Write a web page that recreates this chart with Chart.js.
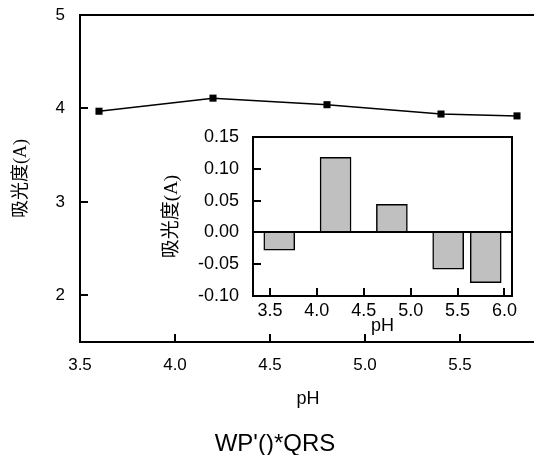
<!DOCTYPE html>
<html>
<head>
<meta charset="utf-8">
<script src="https://cdn.jsdelivr.net/npm/chart.js@4.4.0/dist/chart.umd.min.js"></script>
<style>
  html, body { margin: 0; padding: 0; background: #fff; overflow: hidden; }
  #wrap { position: relative; width: 534px; height: 455px; overflow: hidden; }
  #wrap canvas { position: absolute; left: 0; top: 0; }
  #caption {
    position: absolute; left: 0; width: 550px; top: 431px;
    text-align: center; color: #000;
    font: 24px/24px 'Liberation Sans', Arial, sans-serif;
  }
</style>
</head>
<body>
<div id="wrap">
  <canvas id="chartMain" width="560" height="455"></canvas>
  <canvas id="chartInset" width="534" height="455"></canvas>
  <div id="caption">WP'()*QRS</div>
</div>
<script>
// main plot: absorbance vs pH
const mainPH = [3.6, 4.2, 4.8, 5.4, 5.8];
const mainAbs = [3.97, 4.11, 4.04, 3.94, 3.92];
const mainXTicks = [3.5, 4.0, 4.5, 5.0, 5.5];
const mainYTicks = [2, 3, 4, 5];

// inset: absorbance change per pH
const insetPH = [3.6, 4.2, 4.8, 5.4, 5.8];
const insetDelta = [-0.028, 0.118, 0.044, -0.058, -0.079];
const insetXTicks = [3.5, 4.0, 4.5, 5.0, 5.5, 6.0];
const insetYTicks = [-0.10, -0.05, 0.00, 0.05, 0.10, 0.15];

const yTitle = '吸光度(A)';
const xTitle = 'pH';

Chart.defaults.color = '#000';
Chart.defaults.font.family = "'Liberation Sans', Arial, sans-serif";
Chart.defaults.animation = false;

const cjkFont = "'Liberation Serif', 'Noto Sans CJK SC', serif";

// inward tick marks, top line, optional right side and zero line
const frame = {
  id: 'frame',
  afterDatasetsDraw(chart, args, o) {
    const { ctx, chartArea: a } = chart;
    const { x, y } = chart.scales;
    ctx.save();
    ctx.strokeStyle = '#000';
    ctx.lineWidth = 2;
    ctx.beginPath();
    x.ticks.forEach(t => {
      const p = Math.round(x.getPixelForValue(t.value));
      ctx.moveTo(p, a.bottom);
      ctx.lineTo(p, a.bottom - o.tick);
    });
    y.ticks.forEach(t => {
      const p = Math.round(y.getPixelForValue(t.value));
      ctx.moveTo(a.left, p);
      ctx.lineTo(a.left + o.tick, p);
    });
    ctx.moveTo(a.left, a.top);
    ctx.lineTo(a.right, a.top);
    if (o.box) {
      ctx.moveTo(a.right, a.top - 1);
      ctx.lineTo(a.right, a.bottom + 1);
    }
    if (o.zero) {
      const z = Math.round(y.getPixelForValue(0));
      ctx.moveTo(a.left, z);
      ctx.lineTo(a.right, z);
    }
    ctx.stroke();
    ctx.restore();
  }
};

// fixed axis box sizes so the plot area lands where the original has it
const fixWidth = w => s => { s.width = w; s.paddingTop = 0; s.paddingBottom = 0; };
const fixHeight = h => s => { s.height = h; };

new Chart(document.getElementById('chartMain'), {
  type: 'line',
  data: {
    datasets: [{
      data: mainPH.map((v, i) => ({ x: v, y: mainAbs[i] })),
      borderColor: '#000',
      borderWidth: 1.5,
      pointStyle: 'rect',
      pointRadius: 5,
      pointBackgroundColor: '#000',
      pointBorderColor: '#000',
      pointBorderWidth: 0,
      tension: 0,
    }]
  },
  plugins: [frame],
  options: {
    responsive: false,
    layout: { padding: { left: 0, top: 15, right: 24, bottom: 0 } },
    plugins: {
      legend: { display: false },
      tooltip: { enabled: false },
      frame: { tick: 8 }
    },
    scales: {
      x: {
        type: 'linear', min: 3.5, max: 5.9,
        afterBuildTicks: s => { s.ticks = mainXTicks.map(v => ({ value: v })); },
        afterFit: fixHeight(113),
        grid: { display: false, drawTicks: false },
        border: { display: true, color: '#000', width: 2 },
        ticks: { padding: 13, font: { size: 17 }, callback: v => v.toFixed(1) },
        title: { display: true, text: xTitle, font: { size: 18 }, padding: { top: 0, bottom: 45 } }
      },
      y: {
        min: 1.5, max: 5,
        afterBuildTicks: s => { s.ticks = mainYTicks.map(v => ({ value: v })); },
        afterFit: fixWidth(80),
        grid: { display: false, drawTicks: false },
        border: { display: true, color: '#000', width: 2 },
        ticks: { padding: 15, font: { size: 17 }, callback: v => String(v) },
        title: { display: true, text: yTitle, font: { size: 18, family: cjkFont }, padding: { top: 10, bottom: 0 } }
      }
    }
  }
});

new Chart(document.getElementById('chartInset'), {
  type: 'bar',
  data: {
    datasets: [{
      data: insetPH.map((v, i) => ({ x: v, y: insetDelta[i] })),
      backgroundColor: '#c0c0c0',
      borderColor: '#000',
      borderWidth: 1.5,
      barThickness: 31,
    }]
  },
  plugins: [frame],
  options: {
    responsive: false,
    layout: { padding: { left: 150, top: 137, right: 22, bottom: 118 } },
    plugins: {
      legend: { display: false },
      tooltip: { enabled: false },
      frame: { tick: 8, box: true, zero: true }
    },
    scales: {
      x: {
        type: 'linear', min: 3.32, max: 6.08, offset: false,
        afterBuildTicks: s => { s.ticks = insetXTicks.map(v => ({ value: v })); },
        afterFit: fixHeight(41),
        grid: { display: false, drawTicks: false },
        border: { display: true, color: '#000', width: 2 },
        ticks: { padding: 4, font: { size: 18 }, callback: v => v.toFixed(1) },
        title: { display: true, text: xTitle, font: { size: 18 }, padding: { top: 0, bottom: 0 } }
      },
      y: {
        min: -0.10, max: 0.15,
        afterBuildTicks: s => { s.ticks = insetYTicks.map(v => ({ value: v })); },
        afterFit: fixWidth(103),
        grid: { display: false, drawTicks: false },
        border: { display: true, color: '#000', width: 2 },
        ticks: { padding: 14, font: { size: 18 }, callback: v => v.toFixed(2) },
        title: { display: true, text: yTitle, font: { size: 19, family: cjkFont }, padding: { top: 10.6, bottom: 0 } }
      }
    }
  }
});
</script>
</body>
</html>
